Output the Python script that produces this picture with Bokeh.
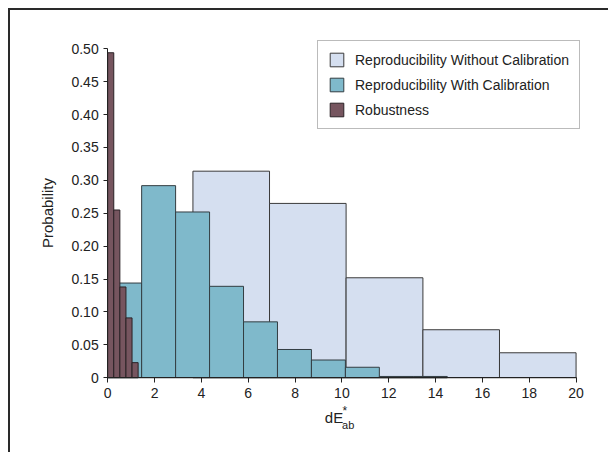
from bokeh.plotting import figure
from bokeh.models import Range1d, FixedTicker, Legend, LegendItem, Label
from bokeh.embed import file_html
from bokeh.resources import INLINE

# --- data ---
without_left = [3.64, 6.91, 10.18, 13.46, 16.73]
without_right = [6.91, 10.18, 13.46, 16.73, 20.0]
without_prob = [0.314, 0.265, 0.152, 0.073, 0.038]

with_left = [0.0, 1.45, 2.9, 4.35, 5.8, 7.25, 8.7, 10.15, 11.6, 13.05]
with_right = [1.45, 2.9, 4.35, 5.8, 7.25, 8.7, 10.15, 11.6, 13.05, 14.5]
with_prob = [0.144, 0.292, 0.252, 0.139, 0.085, 0.043, 0.027, 0.016, 0.002, 0.002]

rob_left = [0.0, 0.26, 0.52, 0.78, 1.04]
rob_right = [0.26, 0.52, 0.78, 1.04, 1.30]
rob_prob = [0.494, 0.255, 0.138, 0.091, 0.023]

x_ticks = [0, 2, 4, 6, 8, 10, 12, 14, 16, 18, 20]
y_ticks = [0, 0.05, 0.1, 0.15, 0.2, 0.25, 0.3, 0.35, 0.4, 0.45, 0.5]
y_tick_labels = ["0", "0.05", "0.10", "0.15", "0.20", "0.25", "0.30", "0.35", "0.40", "0.45", "0.50"]

FONT = "Liberation Sans"
INK = "#222222"

p = figure(width=600, height=444, output_backend="svg", toolbar_location=None,
           x_range=Range1d(-4.15, 21.47), y_range=Range1d(-0.1166, 0.5582),
           min_border_left=0, min_border_right=0, min_border_top=0, min_border_bottom=0,
           styles={"margin-left": "8px", "margin-top": "8px",
                   "border-left": "2px solid #2a2a2a", "border-top": "2px solid #2a2a2a"})
p.outline_line_color = None
p.xgrid.visible = False
p.ygrid.visible = False

r1 = p.quad(left=without_left, right=without_right, bottom=0, top=without_prob,
            fill_color="#d5dff0", line_color="#3a3a3a", line_width=1)
r2 = p.quad(left=with_left, right=with_right, bottom=0, top=with_prob,
            fill_color="#7fb9cb", line_color="#333d42", line_width=1)
r3 = p.quad(left=rob_left, right=rob_right, bottom=0, top=rob_prob,
            fill_color="#76555f", line_color="#2a2226", line_width=1)

for ax in (p.xaxis[0], p.yaxis[0]):
    ax.axis_line_color = INK
    ax.major_tick_line_color = INK
    ax.minor_tick_line_color = None
    ax.major_tick_out = 5
    ax.major_tick_in = 0
    ax.major_label_text_font = FONT
    ax.major_label_text_font_size = "14px"
    ax.major_label_text_color = INK
    ax.axis_label_text_font = FONT
    ax.axis_label_text_font_size = "15px"
    ax.axis_label_text_font_style = "normal"
    ax.axis_label_text_color = INK

p.xaxis.ticker = FixedTicker(ticks=x_ticks)
p.yaxis.ticker = FixedTicker(ticks=y_ticks)
p.xaxis.bounds = (0, 20)
p.yaxis.bounds = (0, 0.5)
p.xaxis.fixed_location = 0
p.yaxis.fixed_location = 0
p.yaxis.major_label_overrides = dict(zip(y_ticks, y_tick_labels))
p.yaxis.major_tick_out = 4
p.xaxis.major_label_standoff = 5
p.yaxis.major_label_standoff = 5
p.yaxis.axis_label = "Probability"
p.yaxis.axis_label_standoff = 12

# x axis title dE*ab
p.add_layout(Label(x=9.27, y=-0.061, text="dE", text_font=FONT, text_font_size="15px",
                   text_baseline="middle", text_align="left", text_color=INK))
p.add_layout(Label(x=10.03, y=-0.050, text="*", text_font=FONT, text_font_size="12px",
                   text_baseline="middle", text_align="left", text_color=INK))
p.add_layout(Label(x=10.01, y=-0.072, text="ab", text_font=FONT, text_font_size="11px",
                   text_baseline="middle", text_align="left", text_color=INK))

legend = Legend(items=[
    LegendItem(label="Reproducibility Without Calibration", renderers=[r1]),
    LegendItem(label="Reproducibility With Calibration", renderers=[r2]),
    LegendItem(label="Robustness", renderers=[r3]),
], location=(307, 325))
legend.label_text_font = FONT
legend.label_text_font_size = "14px"
legend.label_text_color = INK
legend.glyph_width = 17
legend.glyph_height = 17
legend.label_height = 17
legend.spacing = 8
legend.padding = 10
legend.margin = 0
legend.label_standoff = 10
legend.border_line_color = "#777777"
legend.border_line_width = 1.5
legend.background_fill_alpha = 1
p.add_layout(legend)

open("out.html", "w").write(file_html(p, INLINE))
